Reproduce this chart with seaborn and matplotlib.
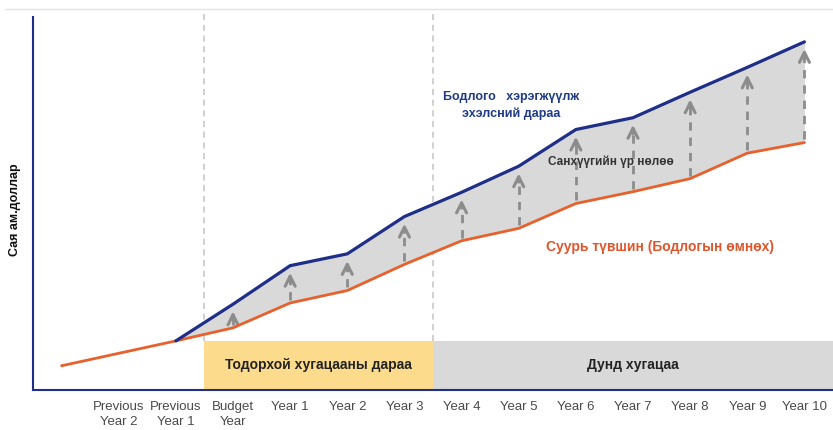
import numpy as np
import pandas as pd
import matplotlib.pyplot as plt
import seaborn as sns
from matplotlib.patches import Rectangle
from matplotlib.lines import Line2D

sns.set_style('white')
plt.rcParams['font.family'] = ['Liberation Sans', 'DejaVu Sans']

# ангилал (эхний цэг нь шошгогүй)
periods = ['', 'Previous\nYear 2', 'Previous\nYear 1', 'Budget\nYear', 'Year 1', 'Year 2', 'Year 3',
           'Year 4', 'Year 5', 'Year 6', 'Year 7', 'Year 8', 'Year 9', 'Year 10']
baseline = [0.39, 0.59, 0.79, 1.00, 1.40, 1.60, 2.02, 2.40, 2.60, 3.00, 3.19, 3.40, 3.81, 3.98]
policy = [np.nan, np.nan, 0.79, 1.38, 2.00, 2.19, 2.79, 3.18, 3.60, 4.19, 4.38, 4.79, 5.19, 5.60]
y_ticks = [0, 1, 2, 3, 4, 5, 6]

blue = '#1F2E86'
orange = '#E8602C'
bold = dict(fontweight='bold', family=['Liberation Sans', 'DejaVu Sans'])

df = pd.DataFrame({'pos': np.arange(len(periods)), 'period': periods,
                   'baseline': baseline, 'policy': policy})
df_pol = df.dropna()

fig = plt.figure(figsize=(8.33, 4.3), dpi=100)
ax = fig.add_axes([33 / 833, 40 / 430, 800 / 833, 373 / 430])

# хугацааны хайрцагнууд
ax.add_patch(Rectangle((2.5, 0), 4, 0.79, facecolor='#FCDC8C', edgecolor='none', zorder=1))
ax.add_patch(Rectangle((6.5, 0), 7, 0.79, facecolor='#D9D9D9', edgecolor='none', zorder=1))
ax.text(4.5, 0.41, 'Тодорхой хугацааны дараа', ha='center', va='center', fontsize=10,
        color='#222222', zorder=2, **bold)
ax.text(10.0, 0.41, 'Дунд хугацаа', ha='center', va='center', fontsize=10,
        color='#222222', zorder=2, **bold)

ax.vlines([2.5, 6.5], 0.79, 6.11, colors='#C4C4C4', linestyles=(0, (4, 3)), lw=1.1,
          clip_on=False, zorder=1)

# санхүүгийн нөлөө
ax.fill_between(df_pol['pos'], df_pol['baseline'], df_pol['policy'], color='#D9D9D9', lw=0, zorder=2)
for _, r in df_pol.iloc[1:].iterrows():
    ax.vlines(r['pos'], r['baseline'] + 0.05, r['policy'] - 0.2, colors='#8C8C8C',
              linestyles=(0, (3, 2.5)), lw=2, zorder=3)
    ax.annotate('', xy=(r['pos'], r['policy'] - 0.07), xytext=(r['pos'], r['policy'] - 0.3),
                arrowprops=dict(arrowstyle='->', color='#8C8C8C', lw=2.2, mutation_scale=18),
                zorder=3)

sns.lineplot(data=df, x='pos', y='baseline', color=orange, lw=2, ax=ax, zorder=4)
sns.lineplot(data=df_pol, x='pos', y='policy', color=blue, lw=2.3, ax=ax, zorder=5)

ax.text(7.87, 4.58, 'Бодлого   хэрэгжүүлж\nэхэлсний дараа', ha='center', va='center',
        fontsize=9, color='#1F3A85', linespacing=1.45, **bold)
ax.text(9.62, 3.67, 'Санхүүгийн үр нөлөө', ha='center', va='center', fontsize=8.5,
        color='#333333', **bold)
ax.text(10.48, 2.30, 'Суурь түвшин (Бодлогын өмнөх)', ha='center', va='center', fontsize=10,
        color='#E0552A', **bold)

ax.set_xlim(-0.5, 13.5)
ax.set_ylim(0, 6)
ax.set_xticks(df['pos'])
ax.set_xticklabels(periods, fontsize=9.5, color='#4A4A4A', linespacing=1.3)
ax.set_yticks(y_ticks)
ax.set_yticklabels([])
ax.tick_params(axis='x', length=0, pad=8)
ax.tick_params(axis='y', length=3, width=1.2, color=blue, direction='out')
ax.set_xlabel('')
ax.set_ylabel('')
for s in ['top', 'right']:
    ax.spines[s].set_visible(False)
for s in ['left', 'bottom']:
    ax.spines[s].set_color(blue)
    ax.spines[s].set_linewidth(1.5)

fig.text(15 / 833, 1 - 210 / 430, 'Сая ам.доллар', rotation=90, ha='center', va='center',
         fontsize=9, color='#111111', **bold)
fig.add_artist(Line2D([5 / 833, 1], [1 - 9 / 430] * 2, color='#E3E3E3', lw=1))

fig.savefig('out.png', dpi=100)
